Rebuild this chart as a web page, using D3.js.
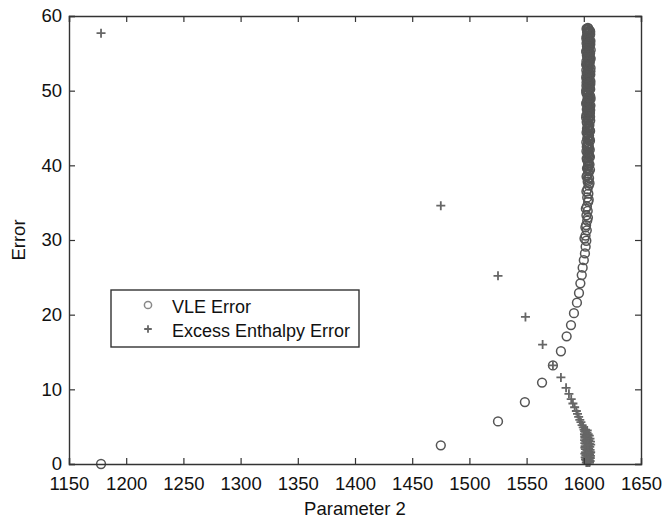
<!DOCTYPE html>
<html>
<head>
<meta charset="utf-8">
<script src="https://cdn.jsdelivr.net/npm/d3@7"></script>
<style>
  body { margin: 0; background: #fff; }
  svg { display: block; font-family: "Liberation Sans", Arial, Helvetica, sans-serif; }
</style>
</head>
<body>
<svg id="chart"></svg>
<script>
// Tick values
const xTicks = [1150, 1200, 1250, 1300, 1350, 1400, 1450, 1500, 1550, 1600, 1650];
const yTicks = [0, 10, 20, 30, 40, 50, 60];

// VLE Error points [parameter 2, error]
const vleError = [
  [1178, 0], [1475, 2.5], [1525, 5.7], [1548.5, 8.3], [1563.5, 10.9], [1573, 13.2],
  [1580, 15.1], [1585, 17.1], [1588.8, 18.6], [1591.4, 20.2], [1594, 21.6], [1595.8, 22.9],
  [1597, 24.2], [1598.2, 25.3], [1599, 26.3], [1600, 27.3], [1601, 28.2], [1601.6, 29.1],
  [1602.2, 29.9], [1601.5, 30.6], [1602.6, 31.3], [1602.0, 32.0], [1603.0, 32.6], [1602.3, 33.3],
  [1603.4, 33.9], [1602.7, 34.5], [1603.8, 35.1], [1603.0, 35.7], [1604.0, 36.2], [1603.2, 36.8],
  [1604.3, 37.3], [1603.4, 37.8], [1604.6, 38.3], [1603.1, 38.7], [1604.4, 39.2], [1602.8, 39.6],
  [1605.0, 40.1], [1603.6, 40.5], [1602.5, 40.9], [1604.8, 41.3], [1603.2, 41.7], [1605.2, 42.1],
  [1602.6, 42.5], [1604.1, 42.9], [1605.4, 43.3], [1603.0, 43.6], [1604.6, 44.0], [1602.4, 44.4],
  [1605.0, 44.7], [1603.5, 45.1], [1604.9, 45.4], [1602.5, 45.8], [1604.2, 46.1], [1605.5, 46.5],
  [1603.0, 46.8], [1604.5, 47.1], [1602.6, 47.5], [1605.2, 47.8], [1603.8, 48.1], [1602.4, 48.4],
  [1604.9, 48.7], [1603.3, 49.0], [1605.4, 49.3], [1602.5, 49.6], [1604.2, 49.9], [1605.6, 50.2],
  [1603.1, 50.5], [1604.6, 50.8], [1602.4, 51.1], [1605.1, 51.4], [1603.6, 51.7], [1604.9, 52.0],
  [1602.6, 52.3], [1605.5, 52.6], [1603.4, 52.9], [1604.3, 53.2], [1602.5, 53.5], [1605.2, 53.8],
  [1603.8, 54.1], [1604.7, 54.4], [1602.7, 54.7], [1605.5, 55.0], [1603.2, 55.3], [1604.4, 55.6],
  [1602.8, 55.9], [1605.1, 56.2], [1603.6, 56.5], [1604.6, 56.8], [1603.0, 57.1], [1605.0, 57.4],
  [1603.5, 57.7], [1604.3, 57.9], [1603.2, 58.1], [1604.0, 58.3],
  // second branch of the dense column
  [1600.6, 30.2], [1601.4, 31.7], [1603.6, 33.0], [1601.8, 34.2], [1604.3, 35.4], [1602.3, 36.5],
  [1605.0, 37.6], [1602.4, 38.5], [1605.4, 39.4], [1603.7, 39.9], [1604.2, 40.3], [1602.9, 40.7],
  [1605.3, 41.1], [1603.9, 41.5], [1602.3, 41.9], [1604.5, 42.3], [1603.3, 42.7], [1602.2, 43.1],
  [1605.0, 43.5], [1604.0, 43.8], [1603.3, 44.2], [1605.5, 44.6], [1602.8, 44.9], [1604.1, 45.3],
  [1603.0, 45.6], [1605.6, 46.0], [1603.6, 46.3], [1602.2, 46.7], [1605.4, 47.0], [1603.5, 47.3],
  [1604.3, 47.7], [1605.8, 48.0], [1604.2, 48.3], [1603.0, 48.6], [1605.9, 48.9], [1604.0, 49.2],
  [1603.6, 49.5], [1602.2, 49.8], [1603.9, 50.0], [1605.0, 50.35], [1602.3, 50.65], [1604.0, 50.95],
  [1605.8, 51.25], [1602.5, 51.55], [1603.5, 51.85], [1605.7, 52.15], [1604.1, 52.45], [1602.2, 52.75],
  [1605.9, 53.05], [1603.7, 53.35], [1604.7, 53.65], [1602.3, 53.95], [1605.9, 54.25], [1603.2, 54.55],
  [1604.2, 54.85], [1602.3, 55.15], [1606.0, 55.45], [1603.5, 55.75], [1604.9, 56.05], [1602.4, 56.35],
  [1605.8, 56.65], [1603.4, 56.95], [1602.5, 57.25], [1605.6, 57.55], [1602.9, 57.8], [1605.3, 58.0],
  [1602.8, 58.2], [1603.6, 58.4],
  // core of the upper column
  [1603.8, 46.2], [1604.3, 46.6], [1603.9, 46.9], [1604.1, 47.2], [1603.7, 47.6], [1604.4, 47.9],
  [1603.6, 48.2], [1604.2, 48.5], [1603.9, 48.8], [1604.5, 49.1], [1603.7, 49.4], [1604.1, 49.7],
  [1603.5, 50.1], [1604.3, 50.4], [1603.8, 50.7], [1604.4, 51.0], [1603.6, 51.3], [1604.2, 51.6],
  [1603.9, 51.9], [1604.5, 52.2], [1603.7, 52.5], [1604.1, 52.8], [1603.5, 53.1], [1604.3, 53.4],
  [1603.8, 53.7], [1604.4, 54.0], [1603.6, 54.3], [1604.2, 54.6], [1603.9, 54.9], [1604.5, 55.2],
  [1603.7, 55.5], [1604.1, 55.8], [1603.5, 56.1], [1604.3, 56.4], [1603.8, 56.7], [1604.4, 57.0],
  [1603.6, 57.3], [1604.2, 57.6], [1603.9, 57.85], [1604.5, 58.05],
  [1602.0, 46.4], [1605.6, 47.4], [1602.1, 48.25], [1605.7, 49.15], [1602.1, 50.05], [1605.7, 50.9],
  [1602.1, 51.8], [1605.7, 52.6], [1602.1, 53.5], [1605.7, 54.4], [1602.1, 55.3], [1605.7, 56.2],
  [1602.2, 57.0], [1605.6, 57.9], [1602.4, 58.3],
  // core of the middle column
  [1603.6, 38.1], [1604.0, 38.9], [1603.5, 39.5], [1604.1, 40.0], [1603.7, 40.6], [1604.2, 41.0],
  [1603.6, 41.4], [1604.0, 41.8], [1603.8, 42.2], [1604.3, 42.6], [1603.6, 43.0], [1604.1, 43.4],
  [1603.8, 43.9], [1604.3, 44.3], [1603.7, 44.8], [1604.2, 45.2], [1603.9, 45.7]
];

// Excess Enthalpy Error points [parameter 2, error]
const enthalpyError = [
  [1178, 57.7], [1475, 34.6], [1525, 25.2], [1549, 19.7], [1564, 16.0], [1573, 13.2],
  [1580, 11.6], [1584.5, 10.2], [1587, 9.4], [1589, 8.7], [1590.5, 8.1], [1592, 7.6],
  [1593.5, 7.1], [1594.5, 6.7], [1595.5, 6.3], [1596.5, 5.9], [1597.5, 5.6], [1598.5, 5.2],
  [1599.5, 4.9], [1600.2, 4.6], [1601.2, 4.3], [1600.6, 4.0], [1602.0, 3.8], [1601.0, 3.5],
  [1602.6, 3.3], [1601.4, 3.1], [1603.2, 2.9], [1601.8, 2.7], [1603.8, 2.5], [1602.2, 2.3],
  [1604.2, 2.1], [1602.6, 1.9], [1604.6, 1.7], [1603.0, 1.5], [1605.0, 1.3], [1603.2, 1.1],
  [1604.4, 0.9], [1602.8, 0.7], [1604.8, 0.5], [1603.6, 0.3],
  [1601.5, 4.6], [1602.8, 4.2], [1600.8, 3.7], [1603.6, 3.6], [1604.4, 3.2], [1600.9, 2.8],
  [1604.8, 2.7], [1601.2, 2.4], [1605.2, 2.3], [1601.4, 2.0], [1605.5, 1.9], [1601.6, 1.6],
  [1605.6, 1.5], [1601.8, 1.2], [1605.8, 1.1], [1602.0, 0.9], [1605.7, 0.8], [1602.4, 0.5],
  [1605.5, 0.4], [1601.5, 0.6], [1605.0, 0.2], [1602.2, 0.2], [1603.0, 4.5], [1602.4, 3.0],
  [1603.6, 2.0], [1604.0, 1.2],
  [1600.8, 4.4], [1603.8, 4.0], [1604.8, 3.8], [1605.4, 3.4], [1600.7, 3.2], [1605.8, 3.0],
  [1604.4, 2.6], [1603.0, 2.4], [1600.9, 2.2], [1603.4, 1.8], [1600.9, 1.4], [1604.2, 1.4],
  [1602.6, 1.2], [1605.2, 0.9], [1603.4, 0.8], [1601.2, 0.9], [1604.2, 0.5], [1603.0, 0.2],
  [1604.6, 0.2], [1606.0, 2.6], [1606.0, 1.6]
];

const seriesNames = ["VLE Error", "Excess Enthalpy Error"];

// Layout
const width = 664;
const height = 519;
const margin = { top: 16, right: 23, bottom: 55, left: 69 };
const innerW = width - margin.left - margin.right;
const innerH = height - margin.top - margin.bottom;

const svg = d3.select("#chart")
  .attr("width", width)
  .attr("height", height);

const g = svg.append("g")
  .attr("transform", `translate(${margin.left},${margin.top})`);

const x = d3.scaleLinear().domain([1150, 1650]).range([0, innerW]);
const y = d3.scaleLinear().domain([0, 60]).range([innerH, 0]);

const markColor = "#555";
const plusColor = "#666";

// Draw markers
function drawCircle(sel, r) {
  return sel.append("circle")
    .attr("r", r)
    .attr("fill", "none")
    .attr("stroke", markColor)
    .attr("stroke-width", 1.5);
}

function drawPlus(sel, s) {
  sel.append("path")
    .attr("d", `M${-s},0H${s}M0,${-s}V${s}`)
    .attr("stroke", plusColor)
    .attr("stroke-width", 1.8)
    .attr("fill", "none");
}

g.selectAll(".vle")
  .data(vleError)
  .enter()
  .append("g")
  .attr("class", "vle")
  .attr("transform", d => `translate(${x(d[0])},${y(d[1])})`)
  .each(function() { drawCircle(d3.select(this), 4.4); });

g.selectAll(".enth")
  .data(enthalpyError)
  .enter()
  .append("g")
  .attr("class", "enth")
  .attr("transform", d => `translate(${x(d[0])},${y(d[1])})`)
  .each(function() { drawPlus(d3.select(this), 4.5); });

// Axes with inward ticks on all four sides
const axisColor = "#333";
const fontSize = "18.5px";

const xAxis = g.append("g")
  .attr("transform", `translate(0,${innerH})`)
  .call(d3.axisBottom(x).tickValues(xTicks).tickSize(-6).tickPadding(13).tickFormat(d3.format("d")));

const yAxis = g.append("g")
  .call(d3.axisLeft(y).tickValues(yTicks).tickSize(-6).tickPadding(7));

const xTop = g.append("g")
  .call(d3.axisTop(x).tickValues(xTicks).tickSize(-6).tickFormat(""));

const yRight = g.append("g")
  .attr("transform", `translate(${innerW},0)`)
  .call(d3.axisRight(y).tickValues(yTicks).tickSize(-6).tickFormat(""));

[xAxis, yAxis, xTop, yRight].forEach(a => {
  a.select(".domain").attr("stroke", axisColor).attr("stroke-width", 1.4);
  a.selectAll(".tick line").attr("stroke", axisColor).attr("stroke-width", 1.2);
  a.selectAll(".tick text")
    .attr("fill", "#111")
    .style("font-size", fontSize)
    .style("font-family", "\"Liberation Sans\", Arial, sans-serif");
});

// Axis titles
svg.append("text")
  .attr("x", margin.left + innerW / 2)
  .attr("y", 515)
  .attr("text-anchor", "middle")
  .attr("fill", "#111")
  .style("font-size", fontSize)
  .text("Parameter 2");

svg.append("text")
  .attr("transform", `translate(25,${margin.top + innerH / 2}) rotate(-90)`)
  .attr("text-anchor", "middle")
  .attr("fill", "#111")
  .style("font-size", fontSize)
  .text("Error");

// Legend
const legend = svg.append("g").attr("transform", "translate(111,290)");

legend.append("rect")
  .attr("width", 248)
  .attr("height", 57)
  .attr("fill", "#fff")
  .attr("stroke", axisColor)
  .attr("stroke-width", 1.4);

const legendRows = legend.selectAll(".legend-row")
  .data(seriesNames)
  .enter()
  .append("g")
  .attr("class", "legend-row")
  .attr("transform", (d, i) => `translate(0,${15 + i * 24})`);

legendRows.append("g")
  .attr("transform", "translate(37,0)")
  .each(function(d, i) {
    if (i === 0) drawCircle(d3.select(this), 3.6).attr("stroke", "#888");
    else drawPlus(d3.select(this), 3.8);
  });

legendRows.append("text")
  .attr("x", 61)
  .attr("y", 8)
  .attr("fill", "#111")
  .style("font-size", "18px")
  .text(d => d);
</script>
</body>
</html>
